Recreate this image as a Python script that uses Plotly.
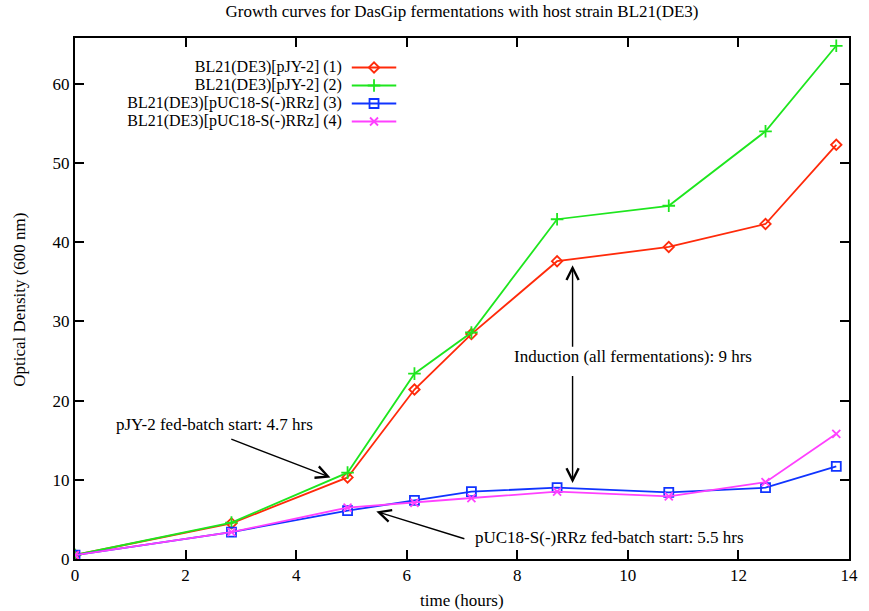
import plotly.graph_objects as go

# ---- data ----
time_h = [0, 2.83, 4.93, 6.14, 7.17, 8.72, 10.74, 12.49, 13.77]
od_pjy2_1 = [0.5, 4.5, 10.3, 21.4, 28.4, 37.6, 39.4, 42.3, 52.3]
od_pjy2_2 = [0.5, 4.6, 10.9, 23.4, 28.6, 42.9, 44.6, 54.0, 64.8]
od_puc_3 = [0.5, 3.4, 6.1, 7.4, 8.5, 9.0, 8.4, 9.0, 11.7]
od_puc_4 = [0.5, 3.4, 6.5, 7.1, 7.7, 8.5, 7.9, 9.7, 15.8]

series_names = ["BL21(DE3)[pJY-2] (1)", "BL21(DE3)[pJY-2] (2)",
                "BL21(DE3)[pUC18-S(-)RRz] (3)", "BL21(DE3)[pUC18-S(-)RRz] (4)"]
series_vals = [od_pjy2_1, od_pjy2_2, od_puc_3, od_puc_4]
colors = ["#ff2a0a", "#1ee61e", "#1034ff", "#ff40ff"]
symbols = ["diamond-open", "cross-thin-open", "square-open", "x-thin-open"]
msizes = [8, 9, 9, 8]

FONT = "Liberation Serif"
FS = 17
W, H = 869, 611
ml, mr, mt, mb = 75, 11, 38, 52

fig = go.Figure()
for name, vals, c, s, ms in zip(series_names, series_vals, colors, symbols, msizes):
    fig.add_trace(go.Scatter(
        x=time_h, y=vals, name=name, mode="lines+markers",
        line=dict(color=c, width=1.8),
        marker=dict(symbol=s, size=ms, color=c, line=dict(color=c, width=1.8)),
        showlegend=False))

# ---- custom gnuplot-style legend (text left, sample right) ----
pw = W - ml - mr
ph = H - mt - mb
leg_text_right = (345 - ml) / pw
leg_x0 = (355 - ml) / pw
leg_x1 = (400 - ml) / pw
leg_xm = (377.5 - ml) / pw
row_px = [67.5, 85.5, 103.5, 121.5]
leg_y = [(H - mb - r) / ph for r in row_px]
for i, (name, c, s, ms) in enumerate(zip(series_names, colors, symbols, msizes)):
    yy = leg_y[i]
    fig.add_trace(go.Scatter(x=[leg_x0, leg_x1], y=[yy, yy], mode="lines",
                             line=dict(color=c, width=1.8), xaxis="x2", yaxis="y2",
                             showlegend=False, hoverinfo="skip"))
    fig.add_trace(go.Scatter(x=[leg_xm], y=[yy], mode="markers",
                             marker=dict(symbol=s, size=ms, color=c, line=dict(color=c, width=1.8)),
                             xaxis="x2", yaxis="y2", showlegend=False, hoverinfo="skip"))
fig.add_trace(go.Scatter(x=[leg_text_right] * 4, y=leg_y, mode="text", text=series_names,
                         textposition="middle left", xaxis="x2", yaxis="y2",
                         textfont=dict(family=FONT, size=16, color="black"),
                         showlegend=False, hoverinfo="skip"))

# ---- annotations with arrows ----
afont = dict(family=FONT, size=FS, color="black")
fig.add_annotation(x=0.70, y=17.0, xref="x", yref="y", text="pJY-2 fed-batch start: 4.7 hrs",
                   showarrow=False, xanchor="left", yanchor="middle", font=afont)
fig.add_annotation(x=4.62, y=10.3, ax=2.80, ay=15.2, xref="x", yref="y", axref="x", ayref="y",
                   text="", showarrow=True, arrowhead=5, arrowsize=1.7, arrowwidth=1.4, arrowcolor="black")
fig.add_annotation(x=7.19, y=2.7, xref="x", yref="y", text="pUC18-S(-)RRz fed-batch start: 5.5 hrs",
                   showarrow=False, xanchor="left", yanchor="middle", font=afont)
fig.add_annotation(x=5.45, y=6.0, ax=7.07, ay=2.5, xref="x", yref="y", axref="x", ayref="y",
                   text="", showarrow=True, arrowhead=5, arrowsize=1.7, arrowwidth=1.4, arrowcolor="black")
fig.add_annotation(x=7.9, y=25.6, xref="x", yref="y", text="Induction (all fermentations): 9 hrs",
                   showarrow=False, xanchor="left", yanchor="middle", font=afont)
fig.add_annotation(x=9.0, y=37.1, ax=9.0, ay=26.6, xref="x", yref="y", axref="x", ayref="y",
                   text="", showarrow=True, arrowhead=5, arrowsize=1.7, arrowwidth=1.4, arrowcolor="black")
fig.add_annotation(x=9.0, y=9.6, ax=9.0, ay=23.3, xref="x", yref="y", axref="x", ayref="y",
                   text="", showarrow=True, arrowhead=5, arrowsize=1.7, arrowwidth=1.4, arrowcolor="black")

# ---- axis titles ----
fig.add_annotation(x=0.5, y=-(600 - (H - mb)) / ph, xref="paper", yref="paper", text="time (hours)",
                   showarrow=False, xanchor="center", yanchor="middle", font=afont)
fig.add_annotation(x=(18 - ml) / pw, y=0.497, xref="paper", yref="paper", text="Optical Density (600 nm)",
                   showarrow=False, xanchor="center", yanchor="middle", textangle=-90, font=afont)

axis_common = dict(showgrid=False, zeroline=False, showline=True, linecolor="black", linewidth=2,
                   mirror="ticks", ticks="inside", ticklen=9, tickwidth=1.5, tickcolor="black",
                   tickfont=dict(family=FONT, size=FS, color="black"))
fig.update_layout(
    width=W, height=H,
    margin=dict(l=ml, r=mr, t=mt, b=mb),
    paper_bgcolor="white", plot_bgcolor="white",
    title=dict(text="Growth curves for DasGip fermentations with host strain BL21(DE3)",
               x=0.5, xref="paper", y=1 - 11 / H, yref="container", yanchor="middle",
               font=dict(family=FONT, size=FS, color="black")),
    xaxis=dict(range=[0, 14], dtick=2, tick0=0, **axis_common),
    yaxis=dict(range=[0, ph / 7.92], dtick=10, tick0=0, **axis_common),
    xaxis2=dict(overlaying="x", range=[0, 1], visible=False, fixedrange=True),
    yaxis2=dict(overlaying="y", range=[0, 1], visible=False, fixedrange=True),
    showlegend=False,
)
fig.write_html("out.html")
